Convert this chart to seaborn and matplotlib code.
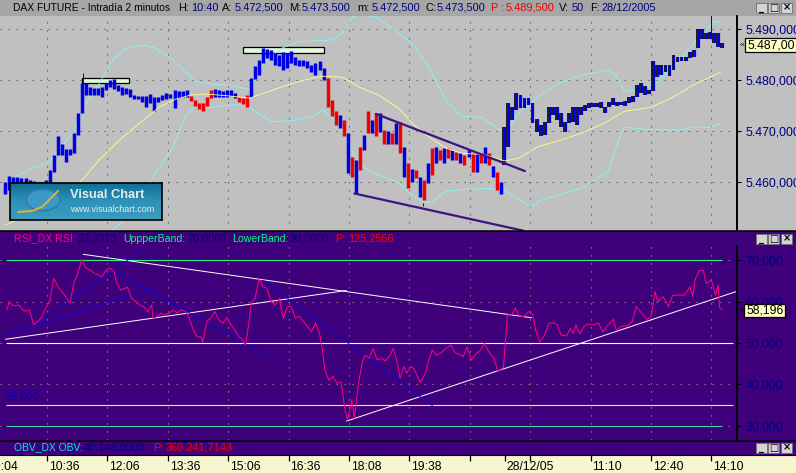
import matplotlib
matplotlib.use("Agg")
import matplotlib.pyplot as plt
import numpy as np
import seaborn as sns
from matplotlib.patches import Rectangle, Ellipse

sns.set_style("white")
plt.rcParams["font.family"] = ["Liberation Sans", "DejaVu Sans"]

W, H = 796, 473

# price bars, one entry every 3 bars
price_hi = [5460.1, 5461.2, 5461.1, 5461.0, 5460.8, 5460.8, 5460.5, 5460.3, 5460.1, 5460.1,
            5460.5, 5462.4, 5465.4, 5469.1, 5467.6, 5466.5, 5466.5, 5469.6, 5473.5, 5479.4,
            5479.4, 5478.6, 5478.4, 5478.4, 5478.6, 5479.4, 5480.0, 5480.2, 5479.1, 5478.6,
            5478.4, 5478.2, 5477.1, 5476.9, 5476.9, 5476.9, 5477.3, 5476.8, 5476.7, 5477.1,
            5477.5, 5477.3, 5478.0, 5477.8, 5477.8, 5478.0, 5476.9, 5476.1, 5475.5, 5475.5,
            5476.8, 5478.0, 5478.2, 5478.0, 5477.8, 5478.1, 5478.1, 5477.5, 5476.8, 5476.6,
            5477.1, 5480.4, 5482.7, 5484.0, 5486.3, 5486.1, 5485.9, 5485.3, 5485.0, 5485.6,
            5485.3, 5485.8, 5484.5, 5484.0, 5483.9, 5483.7, 5483.0, 5483.3, 5483.8, 5482.4,
            5480.4, 5476.1, 5473.9, 5473.2, 5472.2, 5469.6, 5465.0, 5464.4, 5467.0, 5469.3,
            5473.9, 5472.2, 5473.5, 5473.5, 5470.3, 5470.0, 5469.6, 5471.6, 5471.9, 5467.0,
            5463.7, 5462.7, 5462.4, 5461.1, 5460.5, 5463.7, 5466.7, 5466.9, 5466.3, 5466.7,
            5466.7, 5466.3, 5466.0, 5465.7, 5465.4, 5466.3, 5465.7, 5465.7, 5465.8, 5466.9,
            5465.7, 5463.1, 5462.1, 5460.1, 5470.9, 5475.5, 5474.8, 5477.5, 5477.1, 5476.5,
            5476.5, 5475.5, 5472.5, 5471.2, 5471.9, 5474.8, 5474.8, 5474.8, 5473.5, 5471.9,
            5473.5, 5474.8, 5474.8, 5474.8, 5475.2, 5475.5, 5475.6, 5475.5, 5475.8, 5474.8,
            5475.8, 5476.5, 5475.8, 5475.8, 5475.9, 5476.7, 5476.9, 5479.1, 5479.4, 5478.9,
            5478.1, 5483.7, 5483.0, 5483.0, 5483.0, 5483.0, 5485.0, 5484.6, 5484.5, 5484.6,
            5485.6, 5485.9, 5490.0, 5490.0, 5489.2, 5489.5, 5489.3, 5489.3, 5487.3]
price_lo = [5457.8, 5458.5, 5459.5, 5459.8, 5459.8, 5459.8, 5459.8, 5459.8, 5459.7, 5459.7,
            5459.8, 5459.9, 5462.1, 5465.4, 5465.4, 5463.9, 5465.4, 5465.7, 5469.3, 5473.5,
            5477.1, 5477.1, 5477.1, 5477.1, 5476.8, 5478.0, 5478.6, 5478.2, 5477.8, 5477.1,
            5477.3, 5476.8, 5476.3, 5476.3, 5475.8, 5474.8, 5475.5, 5473.9, 5475.8, 5476.1,
            5476.3, 5476.5, 5474.5, 5476.5, 5476.7, 5476.8, 5476.0, 5475.0, 5474.3, 5473.9,
            5475.0, 5476.5, 5476.8, 5476.8, 5476.8, 5476.8, 5476.9, 5476.5, 5475.8, 5475.4,
            5474.8, 5476.8, 5480.2, 5481.0, 5483.3, 5484.3, 5484.0, 5483.0, 5482.7, 5482.0,
            5482.4, 5483.3, 5483.0, 5482.7, 5482.7, 5482.4, 5481.7, 5481.0, 5482.0, 5480.1,
            5474.8, 5472.9, 5471.2, 5470.6, 5469.0, 5461.8, 5461.1, 5457.8, 5462.4, 5466.3,
            5469.6, 5469.6, 5469.0, 5469.9, 5467.6, 5467.6, 5467.6, 5467.6, 5465.7, 5461.1,
            5458.8, 5460.1, 5460.8, 5457.2, 5456.5, 5459.8, 5461.4, 5463.7, 5464.4, 5463.7,
            5464.7, 5464.4, 5464.4, 5463.7, 5463.4, 5465.0, 5462.1, 5462.1, 5463.7, 5463.7,
            5463.3, 5461.1, 5458.5, 5457.8, 5463.4, 5467.0, 5472.2, 5474.2, 5474.5, 5474.5,
            5475.2, 5471.6, 5469.9, 5469.0, 5469.3, 5471.6, 5473.2, 5472.2, 5470.9, 5469.9,
            5471.6, 5471.9, 5471.2, 5473.2, 5473.9, 5474.5, 5474.7, 5474.8, 5474.5, 5473.5,
            5474.7, 5475.2, 5475.0, 5475.2, 5475.0, 5475.5, 5475.8, 5476.8, 5477.5, 5477.1,
            5477.3, 5477.8, 5480.7, 5481.0, 5481.7, 5480.8, 5482.0, 5483.5, 5483.7, 5483.7,
            5484.3, 5484.5, 5486.3, 5488.0, 5488.0, 5488.0, 5487.4, 5486.5, 5486.4]
price_bars = list(range(0, 537, 3))
# b blue, r red, k blue with a black edge
bar_kinds = "b" * 46 + "r" * 6 + "b" * 6 + "r" * 3 + "b" * 19 + "rr" + "rb" * 21 + "k" * 55

spike_bars = [58, 311, 526]
spike_lo = [5479.4, 5456.0, 5489.0]
spike_hi = [5481.4, 5455.4, 5493.2]

ma_bars = [0, 8, 55, 70, 85, 100, 115, 127, 138, 149, 164, 182, 194, 209, 224, 236, 251, 264,
           278, 293, 303, 315, 328, 340, 357, 372, 382, 397, 414, 429, 446, 461, 481, 496, 513, 533]
ma_vals = [5451.6, 5452.6, 5459.8, 5464.4, 5468.3, 5471.6, 5474.8, 5476.3, 5477.1, 5477.3,
           5477.0, 5476.5, 5477.6, 5479.0, 5480.1, 5480.8, 5480.6, 5478.6, 5477.1, 5474.5,
           5471.6, 5469.0, 5466.7, 5465.7, 5465.4, 5464.2, 5464.7, 5467.0, 5468.3, 5469.6,
           5471.6, 5473.9, 5474.7, 5476.5, 5479.1, 5481.6]
upper_bars = [0, 10, 20, 33, 38, 50, 60, 70, 80, 90, 102, 112, 125, 134, 142, 154, 169, 182,
              192, 206, 219, 244, 251, 259, 264, 276, 293, 303, 315, 328, 340, 355, 368, 374,
              382, 397, 412, 429, 449, 455, 461, 471, 484, 499, 513, 526, 533]
upper_vals = [5458.5, 5461.4, 5462.7, 5464.0, 5465.7, 5469.6, 5475.5, 5479.4, 5484.0, 5486.3,
              5486.9, 5486.3, 5484.0, 5481.7, 5479.7, 5479.3, 5478.9, 5478.2, 5483.3, 5486.3,
              5487.6, 5487.9, 5489.2, 5492.5, 5492.8, 5492.5, 5489.2, 5487.3, 5482.7, 5476.1,
              5472.9, 5472.7, 5470.3, 5470.3, 5473.5, 5476.8, 5479.4, 5481.0, 5482.0, 5481.0,
              5477.8, 5478.1, 5479.4, 5483.0, 5487.3, 5491.2, 5491.6]
lower_bars = [80, 95, 112, 125, 134, 141, 154, 169, 179, 192, 199, 214, 229, 237, 249, 259,
              266, 278, 293, 303, 312, 318, 328, 340, 360, 372, 385, 392, 399, 414, 429, 449,
              456, 461, 481, 501, 513, 526, 533]
lower_vals = [5450.7, 5454.0, 5461.8, 5467.0, 5472.9, 5474.8, 5474.7, 5475.2, 5475.2, 5472.9,
              5471.9, 5472.1, 5472.9, 5474.2, 5471.2, 5465.7, 5463.1, 5461.4, 5459.9, 5457.5,
              5456.1, 5456.2, 5458.2, 5458.6, 5458.8, 5458.4, 5456.2, 5455.2, 5456.5, 5457.7,
              5458.8, 5462.1, 5467.6, 5470.8, 5470.3, 5470.2, 5470.8, 5470.8, 5471.6]

channel_bars = [[276, 387], [260, 386]]
channel_vals = [[5473.4, 5462.2], [5457.8, 5450.5]]
box_bars = [(57, 92), (177, 237)]
box_vals = [(5479.4, 5480.4), (5485.4, 5486.5)]

rsi_bars = [1, 3, 5, 8, 10, 13, 15, 18, 21, 24, 27, 30, 33, 36, 40, 43, 46, 48, 51, 54, 57, 60,
            63, 66, 69, 72, 75, 78, 81, 83, 86, 91, 94, 97, 100, 103, 106, 109, 110, 113, 116,
            119, 122, 125, 128, 131, 134, 137, 140, 143, 146, 147, 150, 153, 156, 159, 162,
            165, 168, 171, 174, 177, 179, 182, 183, 186, 189, 192, 195, 198, 201, 204, 207,
            210, 213, 216, 219, 222, 225, 228, 231, 234, 236, 238, 241, 244, 247, 250, 253,
            255, 258, 260, 263, 266, 268, 271, 274, 277, 280, 283, 286, 289, 292,
            294, 297, 299, 302, 304, 306, 309, 313, 315, 318, 321, 324, 328, 332, 335, 339,
            341, 344, 347, 351, 354, 357, 360, 364, 367, 371, 374, 377, 380, 383, 386, 390,
            393, 395, 398, 401, 405, 408, 411, 414, 418, 421, 423, 425, 428, 431, 434, 438,
            442, 445, 449, 453, 455, 459, 463, 467, 470, 474, 478, 481, 484, 486, 490, 494,
            497, 501, 506, 510, 512, 514, 517, 520, 522, 526, 529, 531, 532, 534]
rsi_vals = [58.0, 60.0, 59.2, 59.0, 59.2, 58.0, 57.7, 58.0, 54.4, 55.2, 56.2, 58.4, 60.0, 65.6,
            63.2, 62.0, 60.8, 59.6, 64.4, 66.9, 70.2, 68.1, 67.7, 66.9, 66.5, 66.0, 67.7, 68.1,
            67.3, 64.4, 62.8, 63.5, 60.8, 60.0, 59.2, 58.8, 57.6, 59.2, 56.0, 56.4, 57.2, 56.8,
            57.2, 58.0, 57.3, 58.0, 57.6, 56.0, 53.1, 51.5, 51.4, 50.1, 55.2, 56.0, 57.6, 55.6,
            54.8, 56.2, 54.4, 53.1, 51.5, 50.7, 49.5, 56.4, 59.6, 60.8, 65.4, 63.6, 63.2, 60.0,
            59.2, 60.8, 56.0, 58.8, 58.8, 56.0, 56.5, 55.2, 54.0, 52.7, 54.8, 52.3, 48.7, 43.5,
            41.0, 41.9, 40.2, 40.6, 33.8, 31.4, 36.2, 31.8, 40.2, 45.5, 47.1, 46.3, 48.7, 45.9,
            46.3, 45.7, 46.7, 48.7, 45.1,
            41.5, 44.3, 42.7, 44.3, 43.9, 42.7, 40.4, 42.7, 45.5, 48.3, 47.1, 47.5, 48.7, 49.5,
            47.7, 47.1, 46.7, 49.1, 45.9, 47.5, 48.3, 49.9, 47.9, 46.3, 43.1, 44.1, 56.8, 56.8,
            58.4, 56.5, 56.4, 57.6, 56.8, 53.1, 50.3, 51.5, 54.8, 54.9, 54.4, 51.9, 51.7, 53.5,
            52.3, 54.4, 52.2, 54.0, 54.6, 54.4, 54.8, 52.7, 54.4, 55.7, 53.1, 54.1, 54.1, 55.2,
            58.8, 57.2, 55.7, 56.4, 62.4, 60.0, 61.2, 58.8, 61.5, 61.6, 61.6, 63.6, 61.2, 65.6,
            67.5, 67.5, 64.4, 65.2, 61.6, 64.0, 58.6, 58.1]

white_trend_bars = [[58, 392], [0, 254], [254, 544]]
white_trend_vals = [[71.45, 56.1], [50.9, 62.7], [31.1, 62.4]]
blue_trend_bars = [[22, 102], [0, 112], [77, 200], [192, 319]]
blue_trend_vals = [[54.4, 72.5], [51.9, 63.5], [68.1, 46.0], [65.2, 34.6]]

rsi_levels = [70, 50, 35, 30]
level_colors = ["#30f080", "#ffffff", "#ffff00", "#30d8a0"]
level_ends = [534, 542, 542, 534]

grid_bars = [31, 76, 121, 166, 211, 256, 301, 346, 391, 436, 481, 526]
time_bars = [31, 76, 121, 166, 211, 256, 301, 346, 372, 391, 436, 481, 526]
time_labels = ["10:36", "12:06", "13:36", "15:06", "16:36", "18:08", "19:38", "",
               "28/12/05", "", "11:10", "12:40", "14:10"]
price_ticks = [5460, 5470, 5480, 5490]
price_labels = ["5.460,000", "5.470,000", "5.480,000", "5.490,000"]
rsi_ticks = [30, 40, 50, 60, 70]
rsi_labels = ["30,000", "40,000", "50,000", "60,000", "70,000"]

PURPLE = "#3f007c"
GRAY = "#c0c0c0"
NAVY = "#000080"
CREAM = "#f6f6cf"
BAR_BLUE = "#0000e8"
XLIM = (-4.0, 545.0)


def px_axes(x0, y0, x1, y1, **kw):
    return fig.add_axes([x0 / W, 1 - y1 / H, (x1 - x0) / W, (y1 - y0) / H], **kw)


def setup_panel(ax, ylim, ticks, labels, face, grid_color, label_color):
    ax.set_facecolor(face)
    ax.set_xlim(*XLIM)
    ax.set_ylim(*ylim)
    ax.set_xticks(grid_bars)
    ax.set_xticklabels([])
    ax.set_yticks(ticks)
    ax.set_yticklabels(labels, ha="left", color=label_color, fontsize=8.9)
    ax.yaxis.tick_right()
    ax.tick_params(axis="y", length=3, width=0.8, pad=3, color="black", right=True)
    ax.tick_params(axis="x", length=0)
    ax.grid(True, linestyle=(0, (1.2, 6.0)), color=grid_color, linewidth=0.8)
    ax.set_axisbelow(True)
    for name, sp in ax.spines.items():
        sp.set_visible(name == "right")
    ax.spines["right"].set_color("black")
    ax.spines["right"].set_linewidth(1.2)
    ax.set_xlabel("")
    ax.set_ylabel("")


def thin_line(ax, xs, ys, color, lw=0.62, z=3):
    sns.lineplot(x=xs, y=ys, ax=ax, color=color, linewidth=lw, zorder=z)


fig = plt.figure(figsize=(W / 100, H / 100), dpi=100, facecolor=GRAY)

bg = px_axes(0, 0, W, H, zorder=0)
bg.set_xlim(0, W)
bg.set_ylim(H, 0)
bg.axis("off")
bg.add_patch(Rectangle((0, 0), W, 16, color="#a6a6a6", lw=0))
bg.add_patch(Rectangle((0, 231), W, 224, color=PURPLE, lw=0))
bg.add_patch(Rectangle((0, 455), W, 18, color=CREAM, lw=0))

# price panel
ax1 = px_axes(0, 16, 737, 231, zorder=1)
setup_panel(ax1, (5450.45, 5492.6), price_ticks, price_labels, GRAY, "#5a5a5a", NAVY)

for (b0, b1), (v0, v1) in zip(box_bars, box_vals):
    ax1.add_patch(Rectangle((b0, v0), b1 - b0, v1 - v0, facecolor="#e6f8dc",
                            edgecolor="black", linewidth=0.9, zorder=2))

thin_line(ax1, upper_bars, upper_vals, "#80f8f8")
thin_line(ax1, lower_bars, lower_vals, "#80f8f8")

kinds = np.array(list(bar_kinds))
x = np.array(price_bars)
hi = np.array(price_hi)
lo = np.array(price_lo)
m = kinds == "k"
ax1.vlines(x[m] - 1.0, lo[m], hi[m], color="black", linewidth=1.2, zorder=4)
ax1.vlines(x[m] + 0.4, lo[m], hi[m], color=BAR_BLUE, linewidth=1.6, zorder=4)
m = kinds == "b"
ax1.vlines(x[m], lo[m], hi[m], color=BAR_BLUE, linewidth=2.5, zorder=4)
m = kinds == "r"
ax1.vlines(x[m], lo[m], hi[m], color="#f00000", linewidth=2.5, zorder=4)
ax1.vlines(spike_bars, spike_lo, spike_hi, color=BAR_BLUE, linewidth=0.72, zorder=4)

thin_line(ax1, ma_bars, ma_vals, "#ffff88", z=5)
for bars, vals in zip(channel_bars, channel_vals):
    sns.lineplot(x=bars, y=vals, ax=ax1, color="#3c1480", linewidth=1.6, zorder=6)
setup_panel(ax1, (5450.45, 5492.6), price_ticks, price_labels, GRAY, "#5a5a5a", NAVY)

# RSI panel
ax2 = px_axes(0, 246, 737, 440, zorder=1)
for lev, col, end in zip(rsi_levels, level_colors, level_ends):
    ax2.hlines(lev, 0.5, end, color=col, linewidth=0.8, zorder=2)
for bars, vals in zip(white_trend_bars, white_trend_vals):
    thin_line(ax2, bars, vals, "white", lw=0.7)
for bars, vals in zip(blue_trend_bars, blue_trend_vals):
    thin_line(ax2, bars, vals, "#0808e0", lw=0.65)
thin_line(ax2, rsi_bars, rsi_vals, "#ff0080", lw=0.75, z=4)
setup_panel(ax2, (26.54, 73.46), rsi_ticks, rsi_labels, PURPLE, "#8c8c52", NAVY)

# time strip
ax3 = px_axes(0, 455, 737, 473, zorder=1)
ax3.set_facecolor(CREAM)
ax3.set_xlim(*XLIM)
ax3.set_ylim(0, 1)
ax3.set_xticks(time_bars)
ax3.set_xticklabels(time_labels, ha="left", fontsize=8.7, color="black")
ax3.tick_params(axis="x", direction="in", top=True, bottom=False, labeltop=False, labelbottom=False,
                length=4, width=0.9, color="black")
ax3.set_yticks([])
for sp in ax3.spines.values():
    sp.set_visible(False)
for b, lab in zip(time_bars, time_labels):
    if lab:
        ax3.text(b + 1.4, 0.36, lab, ha="left", va="center", fontsize=8.7, color="black")
ax3.text(-14 + 0.6, 0.36, "09:04", ha="left", va="center", fontsize=8.7, color="black")

# overlay with headers, value boxes and buttons
top = px_axes(0, 0, W, H, zorder=5)
top.set_xlim(0, W)
top.set_ylim(H, 0)
top.axis("off")
top.patch.set_alpha(0)
top.plot([0, W], [231, 231], color="black", lw=1.1)
top.plot([0, W], [440.5, 440.5], color="black", lw=1.1)
top.plot([0, W], [455, 455], color="black", lw=0.8)
top.plot([737, 737], [16, 231], color="black", lw=1.2)
top.plot([737, 737], [246, 440], color="black", lw=1.2)


def header(items, y):
    for px, txt, col, *size in items:
        top.text(px, y, txt, color=col, fontsize=size[0] if size else 7.9, va="center", ha="left")


header([(13, "DAX FUTURE - Intradía 2 minutos", "black", 7.35), (178, "H:", "black"), (191, "10:40", NAVY),
        (222, "A:", "black"), (235, "5.472,500", NAVY), (289, "M:", "black"), (302, "5.473,500", NAVY),
        (357, "m:", "black"), (372, "5.472,500", NAVY), (425, "C:", "black"), (437, "5.473,500", NAVY),
        (491, "P :", "#f00000"), (506, "5.489,500", "#f00000"), (559, "V:", "black"), (572, "50", NAVY),
        (590, "F:", "black"), (601, "28/12/2005", NAVY)], 8)
header([(14, "RSI_DX RSI:", "#ff0080", 7.6), (78, "53,3313", NAVY), (123, "UppperBand:", "#00ff80", 7.6),
        (187, "70,0000", NAVY), (232, "LowerBand:", "#00ff80", 7.6), (290, "30,0000", NAVY),
        (335, "P:", "#ff0000"), (348, "125,2566", "#ff0000")], 238.5)
header([(14, "OBV_DX OBV:", "#00e8e8", 7.4), (84, "40.148,0000", NAVY), (153, "P:", "#ff0000"),
        (166, "360.241,7143", "#ff0000")], 447.5)
top.text(6, 396, "35,000", color="#0000c0", fontsize=7.9, va="center")

for (x0, y0, x1, y1, txt) in [(745, 38, 797, 52, "5.487,00"), (744, 304, 785, 317, "58,196")]:
    top.add_patch(Rectangle((x0, y0), x1 - x0, y1 - y0, facecolor="#ffffc4", edgecolor="black", lw=0.9))
    top.text(x0 + 2.5, (y0 + y1) / 2 + 0.3, txt, color="black", fontsize=8.8, va="center")
    top.text(x0 - 1, (y0 + y1) / 2, "«", color="black", fontsize=6, va="center", ha="right")

for y in [3, 234, 443]:
    for bx, mark in [(756, "_"), (768, "□"), (781, "×")]:
        top.add_patch(Rectangle((bx, y), 11, 10, facecolor="#d4d4d4", edgecolor="#707070", lw=0.6))
        top.text(bx + 5.5, y + 4.6, mark, color="black", fontsize=7, ha="center", va="center",
                 fontweight="bold", family=["DejaVu Sans"])

# logo
logo = px_axes(10, 183, 162, 220, zorder=6)
logo.imshow(np.linspace(0, 1, 40)[:, None], cmap=matplotlib.colors.LinearSegmentedColormap.from_list(
    "logo", ["#0f6e94", "#2f93b8", "#3a9cbe"]), aspect="auto", extent=(0, 152, 37, 0))
logo.set_xlim(0, 152)
logo.set_ylim(37, 0)
logo.set_xticks([])
logo.set_yticks([])
for sp in logo.spines.values():
    sp.set_color("black")
    sp.set_linewidth(1.2)
logo.add_patch(Ellipse((33, 17), 34, 21, facecolor="#3e98c8", edgecolor="#2a7fb0", lw=1.2))
logo.plot([8, 22, 32, 40, 48], [29, 28, 24, 16, 8], color="#f0b020", lw=1.4)
logo.text(60, 12.5, "Visual Chart", color="#e4edf1", fontsize=9.3, va="center", fontweight="bold")
logo.text(60, 27, "www.visualchart.com", color="#e4edf1", fontsize=6.5, va="center")

fig.savefig("out.png", dpi=100, facecolor=GRAY)
